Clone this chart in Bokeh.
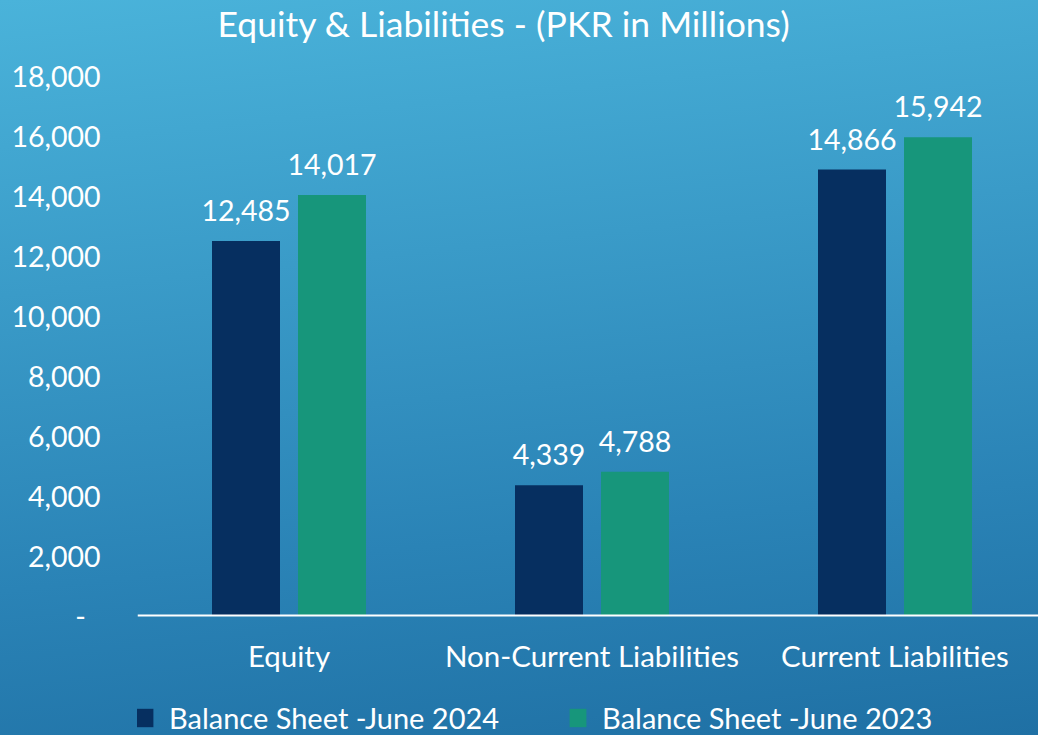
from bokeh.plotting import figure
from bokeh.models import (ColumnDataSource, Range1d, FixedTicker, NumeralTickFormatter,
                          LabelSet, Legend, LegendItem, LinearAxis, Label)
from bokeh.core.properties import value
from bokeh.transform import dodge
from bokeh.embed import file_html
from bokeh.resources import INLINE

# ---- data ----
title_text = "Equity & Liabilities - (PKR in Millions)"
categories = ["Equity", "Non-Current Liabilities", "Current Liabilities"]
series_names = ["Balance Sheet -June 2024", "Balance Sheet -June 2023"]
june_2024 = [12485, 4339, 14866]
june_2023 = [14017, 4788, 15942]
y_ticks = [0, 2000, 4000, 6000, 8000, 10000, 12000, 14000, 16000, 18000]

NAVY = "#062f60"
GREEN = "#17967b"
FONT = "Lato"

xs = list(range(len(categories)))
src = ColumnDataSource(dict(
    x=xs,
    v24=june_2024,
    v23=june_2023,
    t24=[f"{v:,}" for v in june_2024],
    t23=[f"{v:,}" for v in june_2023],
))

W, H = 1038, 735
FL = 137
Y_TOP_PX, Y_ZERO_PX = 75, 615      # pixel rows of 18,000 and 0
FW, FH = W - FL, H
PX_PER_UNIT = (Y_ZERO_PX - Y_TOP_PX) / 18000
p = figure(width=W, height=H, output_backend="svg", toolbar_location=None,
           x_range=Range1d(-0.5, -0.5 + FW / 303),
           y_range=Range1d(-(H - Y_ZERO_PX) / PX_PER_UNIT, 18000 + Y_TOP_PX / PX_PER_UNIT),
           x_axis_location=None, title_location=None,
           min_border_left=FL, min_border_right=0, min_border_top=0,
           min_border_bottom=0, frame_width=FW, frame_height=FH)

p.styles = {"background": "linear-gradient(174deg, #4ab3da 0%, #3a9bc8 35%, #2a83b6 70%, #1f70a4 100%)"}
p.background_fill_alpha = 0
p.border_fill_alpha = 0
p.outline_line_color = None
p.grid.visible = False

# title (as a label inside the full-height frame)
p.add_layout(Label(x=80, y=H - 23, x_units="screen", y_units="screen", text=title_text,
                   text_font=FONT, text_font_size="35.5px", text_color="white",
                   text_align="left", text_baseline="middle"))

off = 43 / 303
bw = 68 / 303
r24 = p.vbar(x=dodge("x", -off, range=p.x_range), top="v24", width=bw, source=src,
             fill_color=NAVY, line_color=None)
r23 = p.vbar(x=dodge("x", off, range=p.x_range), top="v23", width=bw, source=src,
             fill_color=GREEN, line_color=None)

for col, tcol, o in (("v24", "t24", -off), ("v23", "t23", off)):
    ls = LabelSet(x=dodge("x", o, range=p.x_range), y=col, text=tcol, source=src,
                  y_offset=20, text_align="center", text_baseline="alphabetic",
                  text_font=value(FONT), text_font_size=value("28.5px"),
                  text_color=value("white"))
    p.add_layout(ls)

# y axis
ya = p.yaxis[0]
ya.ticker = FixedTicker(ticks=y_ticks)
ya.formatter = NumeralTickFormatter(format="0,0")
ya.major_label_overrides = {0: "-\u00a0\u00a0"}
ya.axis_line_color = None
ya.major_tick_line_color = None
ya.minor_tick_line_color = None
ya.major_tick_out = 0
ya.major_label_standoff = 37
ya.major_label_text_font = FONT
ya.major_label_text_font_size = "28.5px"
ya.major_label_text_color = "white"

# x axis, fixed at value 0
xa = LinearAxis(fixed_location=0)
xa.ticker = FixedTicker(ticks=xs)
xa.major_label_overrides = {i: c for i, c in zip(xs, categories)}
xa.axis_line_color = "white"
xa.axis_line_width = 2
xa.major_tick_line_color = None
xa.minor_tick_line_color = None
xa.major_tick_out = 0
xa.major_label_standoff = 22
xa.major_label_text_font = FONT
xa.major_label_text_font_size = "29.5px"
xa.major_label_text_color = "white"
p.add_layout(xa, "below")

legend = Legend(items=[LegendItem(label=series_names[0], renderers=[r24]),
                       LegendItem(label=series_names[1], renderers=[r23])],
                orientation="horizontal", location=(-3, 0),
                background_fill_alpha=0, border_line_color=None,
                label_text_font=FONT, label_text_font_size="29px",
                label_text_color="white", glyph_width=21, glyph_height=23,
                label_standoff=14, spacing=68, padding=0, margin=0)
p.add_layout(legend)

html = file_html(p, INLINE, "Equity & Liabilities")
open("out.html", "w").write(html)
